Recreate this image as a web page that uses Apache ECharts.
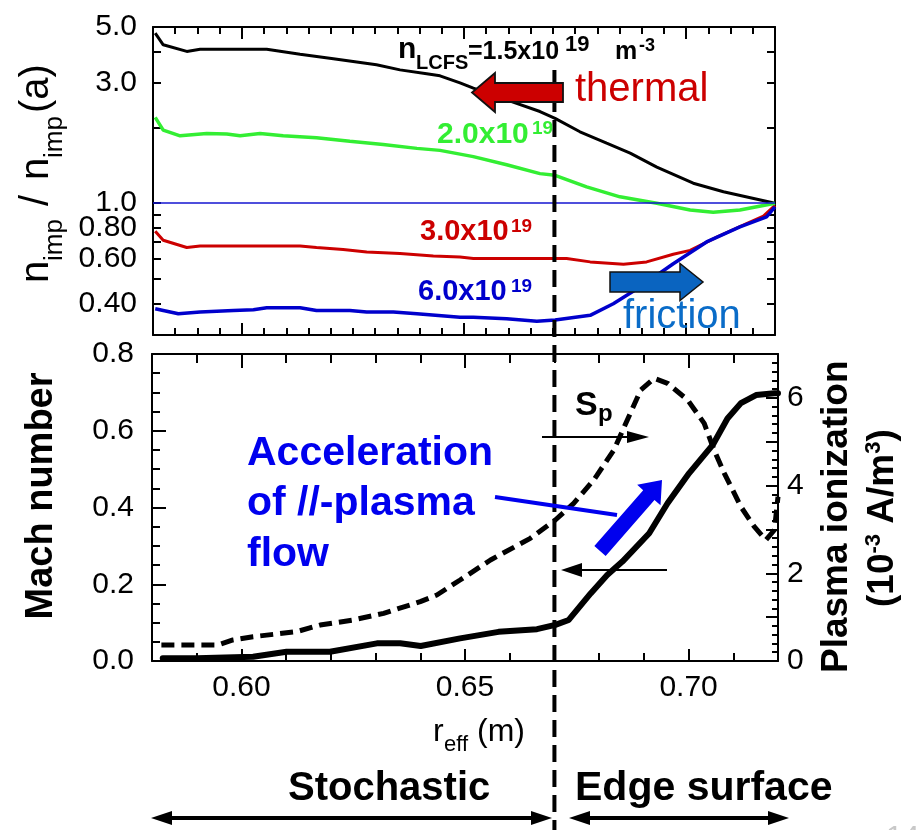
<!DOCTYPE html>
<html><head><meta charset="utf-8">
<script src="https://cdn.jsdelivr.net/npm/echarts@6/dist/echarts.min.js"></script>
<style>html,body{margin:0;padding:0;background:#fff}#c,#tmp{width:922px;height:830px}#tmp{position:absolute;left:-2000px;top:0}</style>
</head><body><div id="c"></div><div id="tmp"></div>
<script>
// ---------- DATA ----------
// Upper panel: n_imp / n_imp(a) vs r_eff (m) for four n_LCFS values
const R_15 = [0.5805,0.5823,0.5876,0.5906,0.6056,0.6131,0.6206,0.6303,0.6356,0.6416,0.6446,0.6491,0.6521,0.6596,0.6671,0.6705,0.6761,0.6821,0.6874,0.6934,0.7016,0.7084,0.7200];
const N_15 = [4.73,4.25,4.00,4.08,4.08,3.90,3.74,3.54,3.38,3.26,3.20,3.00,2.86,2.57,2.31,2.17,1.92,1.73,1.58,1.39,1.20,1.11,1.00];
const R_20 = [0.5805,0.5823,0.5861,0.5921,0.5966,0.5996,0.6041,0.6093,0.6168,0.6243,0.6318,0.6394,0.6446,0.6521,0.6596,0.6671,0.6705,0.6776,0.6851,0.6934,0.7009,0.7061,0.7121,0.7200];
const N_20 = [2.19,1.95,1.85,1.89,1.88,1.85,1.89,1.85,1.82,1.76,1.71,1.65,1.62,1.53,1.42,1.31,1.29,1.16,1.06,1.00,0.94,0.92,0.94,1.00];
const R_30 = [0.5805,0.5823,0.5876,0.5906,0.6131,0.6168,0.6228,0.6281,0.6356,0.6431,0.6491,0.6521,0.6633,0.6731,0.6784,0.6859,0.6911,0.6971,0.7009,0.7069,0.7136,0.7174,0.7200];
const N_30 = [0.774,0.713,0.667,0.676,0.676,0.667,0.655,0.640,0.631,0.617,0.612,0.603,0.603,0.603,0.585,0.572,0.585,0.627,0.650,0.734,0.830,0.888,0.98];
const R_60 = [0.5805,0.5857,0.5906,0.5981,0.6026,0.6056,0.6131,0.6168,0.6243,0.6281,0.6341,0.6394,0.6491,0.6521,0.6596,0.6664,0.6705,0.6784,0.6836,0.6896,0.6971,0.7046,0.7121,0.7181,0.7200];
const N_60 = [0.381,0.364,0.370,0.375,0.378,0.385,0.385,0.375,0.375,0.370,0.370,0.364,0.353,0.353,0.348,0.340,0.344,0.359,0.399,0.465,0.575,0.702,0.805,0.882,0.967];
const REF_LEVEL = 1.0;

// Lower panel: Mach number (left) and plasma ionization S_p (right)
const R_MACH = [0.5824,0.5900,0.6026,0.6101,0.6198,0.6303,0.6355,0.6401,0.6489,0.6575,0.6661,0.6702,0.6732,0.6781,0.6818,0.6852,0.6912,0.6953,0.7001,0.7054,0.7087,0.7117,0.7151,0.7192,0.7200];
const MACH   = [0.007,0.007,0.011,0.024,0.024,0.046,0.046,0.039,0.059,0.076,0.083,0.094,0.107,0.176,0.224,0.259,0.333,0.411,0.489,0.563,0.632,0.672,0.693,0.698,0.698];
const R_SP = [0.5821,0.5948,0.5981,0.6026,0.6123,0.6176,0.6250,0.6318,0.6400,0.6437,0.6489,0.6557,0.6646,0.6702,0.6743,0.6788,0.6833,0.6863,0.6893,0.6923,0.6953,0.6998,0.7035,0.7057,0.7080,0.7117,0.7147,0.7173,0.7192,0.7200];
const SP   = [0.365,0.365,0.479,0.554,0.668,0.82,0.935,1.087,1.353,1.505,1.847,2.303,2.797,3.215,3.596,4.127,4.811,5.495,6.179,6.446,6.332,5.951,5.419,4.811,4.28,3.518,3.062,2.759,2.987,3.746];

// Axes / ticks
const R_MIN = 0.58, R_MAX = 0.72;
const X_MAJOR = [0.60, 0.65, 0.70];
const TOP_Y_LABELS = [0.4, 0.6, 0.8, 1.0, 3.0, 5.0];
const TOP_Y_TICKS = [0.4, 0.5, 0.6, 0.7, 0.8, 0.9, 1, 2, 3, 4, 5];
const SEP_R = 0.67;   // stochastic / edge-surface boundary

// ---------- CHART ----------
const FONT = '"Liberation Sans", Arial, Helvetica, sans-serif';
const zip = (xs, ys) => xs.map((x, i) => [x, ys[i]]);

const AX_LINE = {show: true, onZero: false, lineStyle: {color: '#000', width: 2}};
const NO_LINE = {show: false, onZero: false};
const TICK = (len, extra) => Object.assign({show: true, inside: true, length: len, lineStyle: {color: '#000', width: 2}}, extra || {});
function xa(grid, pos, extra) {
  return Object.assign({type: 'value', gridIndex: grid, position: pos, min: R_MIN, max: R_MAX,
    axisLine: AX_LINE, splitLine: {show: false}, axisLabel: {show: false}, axisTick: {show: false}}, extra);
}
const LBL = {show: true, color: '#000', fontSize: 30, fontFamily: FONT};

const option = {
  animation: false,
  backgroundColor: '#fff',
  textStyle: {fontFamily: FONT},
  grid: [
    {left: 153, top: 27, width: 622, height: 308},
    {left: 152, top: 354, width: 626, height: 307}
  ],
  xAxis: [
    xa(0, 'bottom', {interval: 0.005, axisTick: TICK(7)}),
    xa(0, 'top', {interval: 0.005, axisTick: TICK(7)}),
    xa(0, 'bottom', {axisLine: NO_LINE, axisTick: TICK(12, {customValues: X_MAJOR})}),
    xa(0, 'top', {axisLine: NO_LINE, axisTick: TICK(12, {customValues: X_MAJOR})}),
    xa(1, 'bottom', {interval: 0.01, axisTick: TICK(8),
      axisLabel: Object.assign({}, LBL, {customValues: X_MAJOR, formatter: v => Number(v).toFixed(2), margin: 12})}),
    xa(1, 'top', {interval: 0.01, axisTick: TICK(9)}),
    xa(1, 'bottom', {axisLine: NO_LINE, axisTick: TICK(12, {customValues: X_MAJOR})}),
    xa(1, 'top', {axisLine: NO_LINE, axisTick: TICK(14, {customValues: X_MAJOR})})
  ],
  yAxis: [
    {type: 'log', logBase: 10, gridIndex: 0, position: 'left', min: 0.3, max: 5,
      axisLine: AX_LINE, splitLine: {show: false}, minorTick: {show: false},
      axisTick: TICK(8, {customValues: TOP_Y_TICKS}),
      axisLabel: Object.assign({}, LBL, {customValues: TOP_Y_LABELS, margin: 16, padding: [0, 0, 10, 0],
        formatter: v => (v >= 1 ? Number(v).toFixed(1) : Number(v).toFixed(2))})},
    {type: 'log', logBase: 10, gridIndex: 0, position: 'right', min: 0.3, max: 5,
      axisLine: AX_LINE, splitLine: {show: false}, minorTick: {show: false},
      axisTick: TICK(8, {customValues: TOP_Y_TICKS}), axisLabel: {show: false}},
    {type: 'value', gridIndex: 1, position: 'left', min: 0, max: 0.8, interval: 0.2,
      axisLine: AX_LINE, splitLine: {show: false}, axisTick: TICK(14),
      minorTick: {show: true, splitNumber: 4, length: 8, lineStyle: {color: '#000', width: 2}},
      axisLabel: Object.assign({}, LBL, {margin: 18, padding: [0, 0, 12, 0], formatter: v => Number(v).toFixed(1)})},
    {type: 'value', gridIndex: 1, position: 'right', min: 0, max: 7, interval: 1,
      axisLine: AX_LINE, splitLine: {show: false}, axisTick: TICK(12),
      minorTick: {show: true, splitNumber: 5, length: 6, lineStyle: {color: '#000', width: 2}},
      axisLabel: Object.assign({}, LBL, {margin: 9, formatter: v => (v % 2 === 0 ? String(v) : '')})}
  ],
  series: [
    {type: 'line', name: '1.5e19', xAxisIndex: 0, yAxisIndex: 0, data: zip(R_15, N_15), symbol: 'none',
      lineStyle: {color: '#000', width: 3}, z: 3,
      markLine: {silent: true, symbol: 'none', label: {show: false}, lineStyle: {color: '#1515d0', width: 1.5, type: 'solid'},
        data: [{yAxis: REF_LEVEL}]}},
    {type: 'line', name: '2.0e19', xAxisIndex: 0, yAxisIndex: 0, data: zip(R_20, N_20), symbol: 'none',
      lineStyle: {color: '#33ee33', width: 3.5}, z: 4},
    {type: 'line', name: '3.0e19', xAxisIndex: 0, yAxisIndex: 0, data: zip(R_30, N_30), symbol: 'none',
      lineStyle: {color: '#cc0000', width: 3}, z: 3},
    {type: 'line', name: '6.0e19', xAxisIndex: 0, yAxisIndex: 0, data: zip(R_60, N_60), symbol: 'none',
      lineStyle: {color: '#0000cc', width: 3.5}, z: 3},
    {type: 'line', name: 'Mach', xAxisIndex: 4, yAxisIndex: 2, data: zip(R_MACH, MACH), symbol: 'none',
      lineStyle: {color: '#000', width: 6, join: 'round', cap: 'round'}, z: 3},
    {type: 'line', name: 'Sp', xAxisIndex: 4, yAxisIndex: 3, data: zip(R_SP, SP), symbol: 'none',
      lineStyle: {color: '#000', width: 5, type: [13, 7]}, z: 3}
  ]
};

// pixel position of the region boundary from the library's own x scale (off-screen layout pass)
const tmpChart = echarts.init(document.getElementById('tmp'));
tmpChart.setOption(option);
const xs = tmpChart.convertToPixel({xAxisIndex: 4}, SEP_R);
tmpChart.dispose();

// ---------- ANNOTATIONS ----------
const mctx = document.createElement('canvas').getContext('2d');
const fontStr = (size, bold) => (bold ? 'bold ' : '') + size + 'px ' + FONT;
const measure = (t, size, bold) => { mctx.font = fontStr(size, bold); return mctx.measureText(t).width; };
const MID = 0.33;
const G = [];
function txt(t, x, base, size, bold, color, align) {
  G.push({type: 'text', x: x, y: base - size * MID, z: 100,
    style: {text: t, x: 0, y: 0, fill: color || '#000', font: fontStr(size, bold),
      align: align || 'left', verticalAlign: 'middle', textAlign: align || 'left', textVerticalAlign: 'middle'}});
}
// rotated 90deg CCW (reads bottom to top); bx = screen x of baseline, sy = screen y of text start
function rtxt(t, bx, sy, size, bold, color, align) {
  G.push({type: 'text', x: bx - size * MID, y: sy, rotation: Math.PI / 2, z: 100,
    style: {text: t, x: 0, y: 0, fill: color || '#000', font: fontStr(size, bold),
      align: align || 'left', verticalAlign: 'middle', textAlign: align || 'left', textVerticalAlign: 'middle'}});
}
function rseq(parts, bx, sy) {
  let y = sy;
  parts.forEach(p => { rtxt(p[0], bx + (p[3] || 0), y, p[1], p[2]); y -= measure(p[0], p[1], p[2]); });
}
function line(x1, y1, x2, y2, w, color, dash) {
  G.push({type: 'line', z: 100, shape: {x1, y1, x2, y2},
    style: {stroke: color || '#000', lineWidth: w, lineDash: dash || null}});
}
function poly(points, fill, stroke, lw) {
  G.push({type: 'polygon', z: 101, shape: {points: points},
    style: {fill: fill, stroke: stroke || null, lineWidth: lw || 0}});
}
function arrowPoly(x1, y1, x2, y2, sw, hw, hl) {
  const dx = x2 - x1, dy = y2 - y1, L = Math.hypot(dx, dy), ux = dx / L, uy = dy / L, nx = -uy, ny = ux;
  const bx = x2 - ux * hl, by = y2 - uy * hl;
  return [[x1 + nx * sw / 2, y1 + ny * sw / 2], [bx + nx * sw / 2, by + ny * sw / 2], [bx + nx * hw / 2, by + ny * hw / 2],
    [x2, y2], [bx - nx * hw / 2, by - ny * hw / 2], [bx - nx * sw / 2, by - ny * sw / 2], [x1 - nx * sw / 2, y1 - ny * sw / 2]];
}
function thinArrow(x1, y, x2, w, hl, hh) { // horizontal, tip at x2
  const s = x2 > x1 ? 1 : -1;
  line(x1, y, x2 - s * hl * 0.8, y, w, '#000');
  poly([[x2, y], [x2 - s * hl, y - hh], [x2 - s * hl, y + hh]], '#000');
}

// separation line (stochastic / edge surface)
line(xs, 70, xs, 830, 4, '#000', [17, 8]);

// upper panel labels
txt('n', 398, 60, 30, true);
txt('LCFS', 416, 70, 20, true);
txt('=1.5x10', 468, 60, 25, true);
txt('19', 565, 52, 22, true);
txt('m', 615, 60, 25, true);
txt('-3', 639, 52, 18, true);
txt('thermal', 575, 103, 40, false, '#cc0000');
txt('2.0x10', 437, 145, 30, true, '#33ee33');
txt('19', 532, 135, 19, true, '#33ee33');
txt('3.0x10', 420, 242, 29, true, '#cc0000');
txt('19', 511, 233, 19, true, '#cc0000');
txt('6.0x10', 418, 302, 29, true, '#0000cc');
txt('19', 511, 293, 19, true, '#0000cc');
txt('friction', 623, 330, 40, false, '#0a6cc8');
poly(arrowPoly(563, 92.5, 472, 92.5, 19, 39, 23), '#cc0000', '#111', 1.8);
poly(arrowPoly(610, 282, 703, 282, 20, 37, 23), '#0a64c0', '#111', 1.5);

// upper y-axis name
rtxt('n', 50, 283, 40, false);
rtxt('imp', 63.5, 261, 26, false);
rtxt('/', 50, 206, 40, false);
rtxt('n', 50, 180, 40, false);
rtxt('imp', 63.5, 158, 26, false);
rtxt('(a)', 50, 113, 40, false);

// lower panel labels
rtxt('Mach number', 54, 496, 38, true, '#000', 'center');
rtxt('Plasma ionization', 849, 673, 37, true);
rseq([['(10', 37, true], ['-3', 22, true, -14], [' A/m', 37, true], ['3', 22, true, -14], [')', 37, true]], 895, 607);
txt('S', 575, 417, 34, true);
txt('p', 598, 422, 24, true);
thinArrow(542, 437, 649, 1.8, 22, 6);
thinArrow(667, 570, 561, 1.8, 21, 7);
txt('Acceleration', 247, 467, 41, true, '#0000ee');
txt('of //-plasma', 247, 517, 41, true, '#0000ee');
txt('flow', 247, 568, 41, true, '#0000ee');
line(495, 497, 617, 515, 4, '#0000ee');
poly(arrowPoly(600, 551, 662, 480, 15, 31, 20), '#0000ee');

// x-axis name and regions
txt('r', 433, 743, 32, false);
txt('eff', 444, 752, 22, false);
txt('(m)', 477, 743, 32, false);
txt('Stochastic', 288, 802, 40, true);
txt('Edge surface', 575, 802, 41, true);
line(165, 818, 538, 818, 4, '#000');
poly([[151, 818], [172, 811], [172, 825]], '#000');
poly([[552, 818], [531, 811], [531, 825]], '#000');
line(583, 818, 775, 818, 4, '#000');
poly([[569, 818], [590, 811], [590, 825]], '#000');
poly([[789, 818], [768, 811], [768, 825]], '#000');
txt('14', 886, 848, 30, false, '#c8c8c8');

option.graphic = G;
const chart = echarts.init(document.getElementById('c'), null, {renderer: 'canvas'});
chart.setOption(option);
</script></body></html>
